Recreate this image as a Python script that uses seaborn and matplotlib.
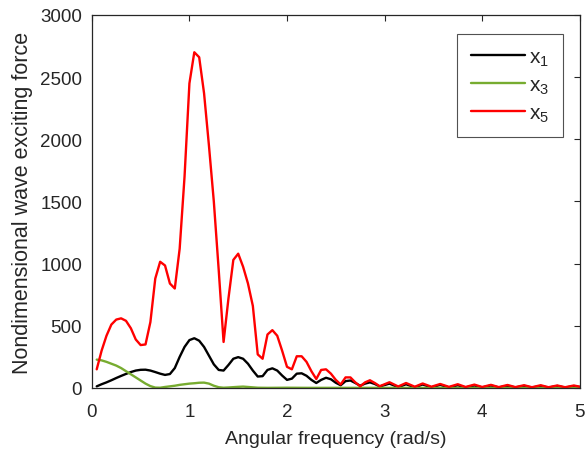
import matplotlib
matplotlib.use('Agg')
import matplotlib.pyplot as plt
import seaborn as sns
import pandas as pd
import numpy as np

# angular frequency (rad/s) and force readings for each component
w_x1 = [0.05, 0.1, 0.15, 0.2, 0.25, 0.3, 0.35, 0.4, 0.45, 0.5, 0.55, 0.6, 0.65, 0.7, 0.75,
        0.8, 0.85, 0.9, 0.95, 1.0, 1.05, 1.1, 1.15, 1.2, 1.25, 1.3, 1.35, 1.4, 1.45, 1.5,
        1.55, 1.6, 1.65, 1.7, 1.75, 1.8, 1.85, 1.9, 1.95, 2.0, 2.05, 2.1, 2.15, 2.2, 2.25,
        2.3, 2.35, 2.4, 2.45, 2.5, 2.55, 2.6, 2.65, 2.7, 2.75, 2.8, 2.85, 2.9, 2.95,
        3.05, 3.14, 3.22, 3.31, 3.39, 3.48, 3.57, 3.66, 3.75, 3.83, 3.92, 4.0, 4.09, 4.17,
        4.26, 4.34, 4.43, 4.51, 4.6, 4.68, 4.77, 4.85, 4.94, 5.0]
f_x1 = [13, 30, 45, 62, 80, 97, 113, 128, 140, 146, 147, 140, 128, 115, 105,
        112, 160, 250, 330, 385, 400, 380, 330, 260, 190, 145, 140, 185, 235, 248,
        235, 195, 140, 92, 95, 145, 158, 140, 100, 65, 75, 115, 118, 98, 65,
        40, 65, 82, 70, 42, 22, 55, 60, 40, 18, 35, 45, 32, 12,
        35, 6, 30, 5, 28, 5, 25, 4, 22, 4, 20, 4, 20, 4,
        18, 4, 17, 3, 16, 3, 16, 3, 15, 8]

w_x3 = [0.05, 0.1, 0.15, 0.2, 0.25, 0.3, 0.35, 0.4, 0.45, 0.5, 0.55, 0.6, 0.65, 0.7, 0.75,
        0.8, 0.85, 0.9, 0.95, 1.0, 1.05, 1.1, 1.15, 1.2, 1.25, 1.3, 1.35, 1.4, 1.5, 1.55,
        1.6, 1.7, 1.8, 2.0, 2.2, 2.5, 3.0, 3.5, 4.0, 4.5, 5.0]
f_x3 = [228, 222, 210, 195, 180, 160, 135, 110, 85, 60, 35, 15, 3, 2, 8,
        13, 18, 25, 30, 35, 38, 42, 43, 35, 18, 6, 2, 4, 9, 11,
        8, 2, 1, 2, 1, 1, 1, 0.5, 0.5, 0.5, 0.5]

w_x5 = [0.05, 0.1, 0.15, 0.2, 0.25, 0.3, 0.35, 0.4, 0.45, 0.5, 0.55, 0.6, 0.65, 0.7, 0.75,
        0.8, 0.85, 0.9, 0.95, 1.0, 1.05, 1.1, 1.15, 1.2, 1.25, 1.3, 1.35, 1.4, 1.45, 1.5,
        1.55, 1.6, 1.65, 1.7, 1.75, 1.8, 1.85, 1.9, 1.95, 2.0, 2.05, 2.1, 2.15, 2.2, 2.25,
        2.3, 2.35, 2.4, 2.45, 2.5, 2.55, 2.6, 2.65, 2.7, 2.75, 2.8, 2.85, 2.9, 2.95,
        3.05, 3.14, 3.22, 3.31, 3.39, 3.48, 3.57, 3.66, 3.75, 3.83, 3.92, 4.0, 4.09, 4.17,
        4.26, 4.34, 4.43, 4.51, 4.6, 4.68, 4.77, 4.85, 4.94, 5.0]
f_x5 = [150, 300, 420, 510, 550, 560, 540, 480, 390, 345, 350, 530, 880, 1015, 985,
        840, 800, 1120, 1700, 2450, 2700, 2660, 2370, 1950, 1500, 950, 370, 720, 1030, 1080,
        975, 840, 660, 270, 235, 430, 465, 420, 300, 170, 150, 255, 255, 210, 135,
        72, 145, 150, 115, 65, 28, 85, 85, 45, 13, 45, 62, 40, 14,
        46, 12, 40, 10, 36, 10, 32, 9, 30, 8, 27, 8, 25, 7,
        24, 7, 22, 6, 22, 6, 20, 6, 20, 10]

labels = ['x$_1$', 'x$_3$', 'x$_5$']
colors = ['#000000', '#77AC30', '#FF0000']

df = pd.concat([
    pd.DataFrame({'w': w_x1, 'F': f_x1, 'series': labels[0]}),
    pd.DataFrame({'w': w_x3, 'F': f_x3, 'series': labels[1]}),
    pd.DataFrame({'w': w_x5, 'F': f_x5, 'series': labels[2]}),
], ignore_index=True)

sns.set_style('white')
plt.rcParams['font.family'] = ['Liberation Sans', 'DejaVu Sans']
plt.rcParams['mathtext.fontset'] = 'custom'
plt.rcParams['mathtext.rm'] = 'Liberation Sans'

fig = plt.figure(figsize=(5.85, 4.56), dpi=100)
ax = fig.add_axes([0.157, 0.147, 0.834, 0.818])

sns.lineplot(data=df, x='w', y='F', hue='series', palette=dict(zip(labels, colors)),
             estimator=None, sort=False, linewidth=1.7, ax=ax)

ax.set_xlim(0, 5)
ax.set_ylim(0, 3000)
ax.set_xticks(range(0, 6))
ax.set_yticks(range(0, 3001, 500))
ax.set_xlabel('Angular frequency (rad/s)', fontsize=14, color='#262626', labelpad=7)
ax.set_ylabel('Nondimensional wave exciting force', fontsize=15.5, color='#262626', labelpad=5)
ax.tick_params(direction='in', length=4, width=0.8, top=True, right=True,
               labelsize=13.5, labelcolor='#262626', color='#262626')
ax.tick_params(axis='x', pad=11)
ax.tick_params(axis='y', pad=7)
for s in ax.spines.values():
    s.set_color('#262626')
    s.set_linewidth(0.9)

leg = ax.legend(loc='upper right', bbox_to_anchor=(0.965, 0.949), borderaxespad=0,
                fontsize=15, frameon=True, fancybox=False, edgecolor='#262626',
                handlelength=2.6, handletextpad=0.2, labelspacing=0.35, borderpad=0.65)
leg.get_frame().set_linewidth(0.8)
leg.set_title(None)

fig.savefig('out.png', dpi=100)
